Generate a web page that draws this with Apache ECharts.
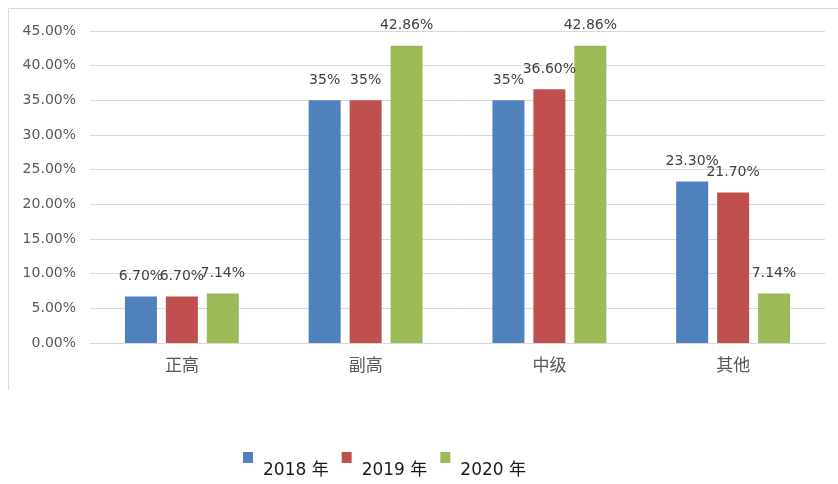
<!DOCTYPE html>
<html lang="zh">
<head>
    <meta charset="UTF-8">
    <title>职称结构</title>
    <style>
        html, body { margin: 0; padding: 0; background: #fff; }
        #chart { width: 838px; height: 484px; }
    </style>
</head>
<body>
    <div id="chart"></div>
    <script src="https://cdn.jsdelivr.net/npm/echarts@6/dist/echarts.min.js"></script>
    <script type="text/javascript">
        const categories = ['正高', '副高', '中级', '其他'];
        const seriesNames = ['2018 年', '2019 年', '2020 年'];

        const values2018 = [6.7, 35, 35, 23.3];
        const values2019 = [6.7, 35, 36.6, 21.7];
        const values2020 = [7.14, 42.86, 42.86, 7.14];

        const labels2018 = ['6.70%', '35%', '35%', '23.30%'];
        const labels2019 = ['6.70%', '35%', '36.60%', '21.70%'];
        const labels2020 = ['7.14%', '42.86%', '42.86%', '7.14%'];

        const colors = ['#4F81BD', '#C0504D', '#9BBB59'];
        const allValues = [values2018, values2019, values2020];
        const allLabels = [labels2018, labels2019, labels2020];

        const chart = echarts.init(document.getElementById('chart'));
        const font = 'DejaVu Sans, "Noto Sans CJK SC", sans-serif';

        chart.setOption({
            animation: false,
            color: colors,
            textStyle: { fontFamily: font },
            graphic: [
                {
                    type: 'polyline',
                    shape: { points: [[8.5, 390], [8.5, 8.5], [838, 8.5]] },
                    style: { stroke: '#D9D9D9', lineWidth: 1, fill: null }
                }
            ],
            legend: {
                left: 238,
                top: 447,
                itemWidth: 10,
                itemHeight: 11,
                itemGap: 13,
                icon: 'rect',
                data: seriesNames,
                formatter: name => '{t|' + name + '}',
                textStyle: {
                    fontFamily: font,
                    rich: {
                        t: {
                            fontSize: 17,
                            color: '#1a1a1a',
                            fontFamily: font,
                            padding: [26, 0, 0, 5]
                        }
                    }
                }
            },
            grid: {
                left: 90,
                right: 13,
                top: 31,
                bottom: 141
            },
            xAxis: {
                type: 'category',
                data: categories,
                axisTick: { show: false },
                axisLine: { lineStyle: { color: '#D9D9D9' } },
                axisLabel: {
                    color: '#595959',
                    fontSize: 17,
                    margin: 15
                }
            },
            yAxis: {
                type: 'value',
                min: 0,
                max: 45,
                interval: 5,
                axisLine: { show: false },
                axisTick: { show: false },
                splitLine: { lineStyle: { color: '#D9D9D9' } },
                axisLabel: {
                    color: '#595959',
                    fontSize: 14,
                    margin: 14,
                    formatter: v => v.toFixed(2) + '%'
                }
            },
            series: seriesNames.map((name, i) => ({
                name: name,
                type: 'bar',
                data: allValues[i],
                barWidth: 32,
                barGap: '28%',
                itemStyle: { color: colors[i] },
                label: {
                    show: true,
                    position: 'top',
                    distance: 13,
                    color: '#404040',
                    fontSize: 14,
                    formatter: p => allLabels[i][p.dataIndex]
                }
            }))
        });
    </script>
</body>
</html>
